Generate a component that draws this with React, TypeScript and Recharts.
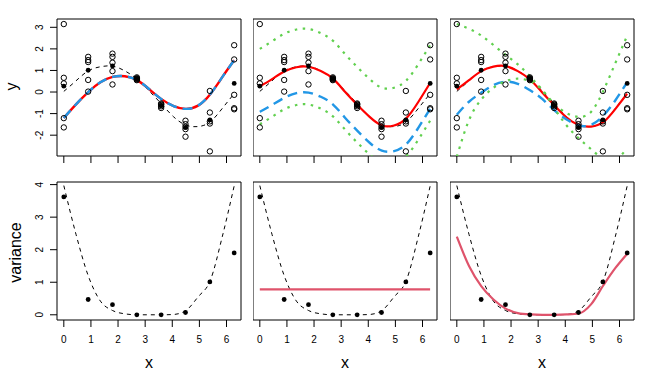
import { ComposedChart, Line, Scatter, XAxis, YAxis, ReferenceArea } from "recharts";

const FONT = "'Liberation Sans', Arial, Helvetica, sans-serif";

// design points and the five draws at each
const xLevels = [0, 0.898, 1.795, 2.693, 3.59, 4.488, 5.386, 6.283];
const yObs = [
  [3.15, 0.66, 0.4, -1.21, -1.64],
  [1.63, 1.48, 1.39, 0.56, 0.02],
  [1.78, 1.63, 1.36, 0.97, 0.35],
  [0.68, 0.64, 0.61, 0.58, 0.55],
  [-0.53, -0.57, -0.6, -0.66, -0.74],
  [-1.33, -1.49, -1.61, -1.72, -2.07],
  [0.05, -0.95, -1.36, -1.46, -2.75],
  [2.17, 1.51, -0.13, -0.75, -0.8],
];
const yMeans = [0.27, 1.01, 1.21, 0.62, -0.62, -1.64, -1.29, 0.4];
const sampleVar = [3.62, 0.47, 0.31, 0.0, 0.0, 0.07, 1.01, 1.9];

// curves, read at these x
const curveX = [0, 0.45, 0.9, 1.35, 1.8, 2.25, 2.7, 3.15, 3.6, 4.05, 4.5, 4.95, 5.4, 5.85, 6.28];
const trueMean = [0.03, 0.52, 0.98, 1.17, 1.2, 0.98, 0.6, 0.05, -0.55, -1.15, -1.53, -1.6, -1.38, -0.75, -0.08];
const fitOne = [-1.2, -0.57, 0.0, 0.45, 0.7, 0.73, 0.55, 0.13, -0.33, -0.65, -0.78, -0.63, -0.1, 0.7, 1.47];
const fitTwo = [0.26, 0.6, 0.95, 1.15, 1.17, 0.98, 0.62, 0.0, -0.6, -1.15, -1.55, -1.55, -1.22, -0.45, 0.42];
const blueTwo = [-0.92, -0.6, -0.27, -0.05, -0.03, -0.22, -0.58, -1.2, -1.8, -2.35, -2.72, -2.74, -2.42, -1.65, -0.78];
const hiTwo = [2.0, 2.35, 2.7, 2.9, 2.92, 2.73, 2.37, 1.75, 1.15, 0.6, 0.2, 0.2, 0.53, 1.3, 2.17];
const loTwo = [-1.49, -1.15, -0.8, -0.6, -0.58, -0.77, -1.13, -1.75, -2.35, -2.9, -3.3, -3.3, -2.97, -2.2, -1.33];
const fitThree = [0.12, 0.55, 0.97, 1.18, 1.2, 0.97, 0.58, -0.02, -0.62, -1.18, -1.53, -1.6, -1.4, -0.78, -0.08];
const blueThree = [-1.05, -0.45, -0.03, 0.32, 0.48, 0.38, 0.08, -0.32, -0.85, -1.27, -1.55, -1.52, -1.1, -0.38, 0.45];
const hiThree = [3.15, 2.93, 2.62, 2.18, 1.72, 1.28, 0.72, 0.1, -0.55, -0.98, -1.15, -0.92, 0.05, 1.35, 2.6];
const loThree = [-3.0, -1.3, -0.35, 0.2, 0.5, 0.62, 0.5, 0.08, -0.75, -1.55, -2.15, -2.65, -3.1, -3.15, -2.6];

const trueVar = [3.97, 2.47, 1.2, 0.42, 0.13, 0.03, 0.0, 0.0, 0.0, 0.01, 0.13, 0.55, 1.05, 2.42, 3.95];
const constVar = 0.78;
const smoothVar = [2.4, 1.5, 0.88, 0.47, 0.19, 0.05, 0.01, 0.0, 0.0, 0.01, 0.04, 0.32, 0.9, 1.44, 1.87];

const X_DOMAIN: [number, number] = [-0.2513, 6.5345];
const X_TICKS = [0, 1, 2, 3, 4, 5, 6];
const TOP_Y: [number, number] = [-2.965, 3.385];
const TOP_TICKS = [-2, -1, 0, 1, 2, 3];
const BOT_Y: [number, number] = [-0.16, 4.08];
const BOT_TICKS = [0, 1, 2, 3, 4];

const RED = "#FF0000";
const BLUE = "#2297E6";
const GREEN = "#61D04F";
const PINK = "#DF536B";
const DOTTED = "2.5 5.5";
const DASHED = "10 6";

const toRows = (xs: number[], ys: number[]) => xs.map((x, i) => ({ x, y: ys[i] }));
const obsPoints = xLevels.flatMap((x, i) => yObs[i].map((y) => ({ x, y })));
const meanPoints = toRows(xLevels, yMeans);
const varPoints = toRows(xLevels, sampleVar);

const OpenCircle = (p: any) => <circle cx={p.cx} cy={p.cy} r={2.7} fill="none" stroke="#000" strokeWidth={1} />;
const Dot = (p: any) => <circle cx={p.cx} cy={p.cy} r={2.4} fill="#000" />;

const YTick = (p: any) => (
  <text x={p.x} y={p.y} transform={`rotate(-90 ${p.x} ${p.y})`} textAnchor="middle" fontSize={10} fontFamily={FONT} fill="#000">
    {p.payload.value}
  </text>
);

const curve = (key: string, ys: number[], color: string, width: number, dash?: string, type: any = "natural") => (
  <Line
    key={key}
    data={toRows(curveX, ys)}
    dataKey="y"
    type={type}
    stroke={color}
    strokeWidth={width}
    strokeDasharray={dash}
    dot={false}
    activeDot={false}
    isAnimationActive={false}
  />
);

const points = (key: string, data: { x: number; y: number }[], shape: any) => (
  <Scatter key={key} data={data} shape={shape} isAnimationActive={false} />
);

const BOX_W = 184;

function Panel({ boxLeft, boxTop, boxHeight, yDomain, yTicks, showY, showXLabels, children }: any) {
  const yw = showY ? 57 : 0;
  const mt = 5;
  const mr = 5;
  const xh = 30;
  return (
    <div style={{ position: "absolute", left: boxLeft - yw, top: boxTop - mt }}>
      <ComposedChart width={yw + BOX_W + mr} height={mt + boxHeight + xh} margin={{ top: mt, right: mr, bottom: 0, left: 0 }}>
        <XAxis
          type="number"
          dataKey="x"
          domain={X_DOMAIN}
          ticks={X_TICKS}
          interval={0}
          allowDataOverflow
          height={xh}
          tickSize={7}
          tickMargin={9}
          axisLine={false}
          stroke="#000"
          tick={{ fill: "#000", fontSize: 10, fontFamily: FONT }}
          tickFormatter={(v: number) => (showXLabels ? String(v) : "")}
        />
        <YAxis
          type="number"
          dataKey="y"
          domain={yDomain}
          ticks={yTicks}
          interval={0}
          allowDataOverflow
          hide={!showY}
          width={57}
          tickSize={7}
          tickMargin={7}
          axisLine={false}
          stroke="#000"
          tick={YTick}
        />
        <ReferenceArea x1={X_DOMAIN[0]} x2={X_DOMAIN[1]} y1={yDomain[0]} y2={yDomain[1]} fill="none" stroke="#000" strokeWidth={1} />
        {children}
      </ComposedChart>
    </div>
  );
}

export default function App() {
  const topRow = { boxTop: 19, boxHeight: 137, yDomain: TOP_Y, yTicks: TOP_TICKS, showXLabels: false };
  const botRow = { boxTop: 182, boxHeight: 138, yDomain: BOT_Y, yTicks: BOT_TICKS, showXLabels: true };
  return (
    <div style={{ position: "absolute", left: 0, top: 0, width: 672, height: 384, background: "#fff", fontFamily: FONT }}>
      <Panel {...topRow} boxLeft={57} showY>
        {points("o1", obsPoints, OpenCircle)}
        {points("m1", meanPoints, Dot)}
        {curve("t1", trueMean, "#000", 1, "4 4")}
        {curve("f1", fitOne, RED, 2.4)}
        {curve("b1", fitOne, BLUE, 2.4, DASHED)}
      </Panel>
      <Panel {...topRow} boxLeft={253} showY={false}>
        {points("o2", obsPoints, OpenCircle)}
        {points("m2", meanPoints, Dot)}
        {curve("t2", trueMean, "#000", 1, "4 4")}
        {curve("f2", fitTwo, RED, 2.2)}
        {curve("b2", blueTwo, BLUE, 2.4, DASHED)}
        {curve("h2", hiTwo, GREEN, 2.2, DOTTED)}
        {curve("l2", loTwo, GREEN, 2.2, DOTTED)}
      </Panel>
      <Panel {...topRow} boxLeft={450} showY={false}>
        {points("o3", obsPoints, OpenCircle)}
        {points("m3", meanPoints, Dot)}
        {curve("t3", trueMean, "#000", 1, "4 4")}
        {curve("f3", fitThree, RED, 2.2)}
        {curve("b3", blueThree, BLUE, 2.4, DASHED)}
        {curve("h3", hiThree, GREEN, 2.2, DOTTED)}
        {curve("l3", loThree, GREEN, 2.2, DOTTED)}
      </Panel>
      <Panel {...botRow} boxLeft={57} showY>
        {points("v1", varPoints, Dot)}
        {curve("tv1", trueVar, "#000", 1, "4 4", "monotone")}
      </Panel>
      <Panel {...botRow} boxLeft={253} showY={false}>
        {points("v2", varPoints, Dot)}
        {curve("tv2", trueVar, "#000", 1, "4 4", "monotone")}
        {curve("cv2", curveX.map(() => constVar), PINK, 2.2, undefined, "linear")}
      </Panel>
      <Panel {...botRow} boxLeft={450} showY={false}>
        {points("v3", varPoints, Dot)}
        {curve("tv3", trueVar, "#000", 1, "4 4", "monotone")}
        {curve("sv3", smoothVar, PINK, 2.2, undefined, "monotone")}
      </Panel>
      <svg width={672} height={384} style={{ position: "absolute", left: 0, top: 0, pointerEvents: "none" }}>
        <text transform="translate(17,86.5) rotate(-90)" textAnchor="middle" fontSize={16} fontFamily={FONT} fill="#000">y</text>
        <text transform="translate(21,252.5) rotate(-90)" textAnchor="middle" fontSize={16} fontFamily={FONT} fill="#000">variance</text>
        <text x={149} y={367.5} textAnchor="middle" fontSize={16} fontFamily={FONT} fill="#000">x</text>
        <text x={345} y={367.5} textAnchor="middle" fontSize={16} fontFamily={FONT} fill="#000">x</text>
        <text x={542} y={367.5} textAnchor="middle" fontSize={16} fontFamily={FONT} fill="#000">x</text>
      </svg>
    </div>
  );
}
